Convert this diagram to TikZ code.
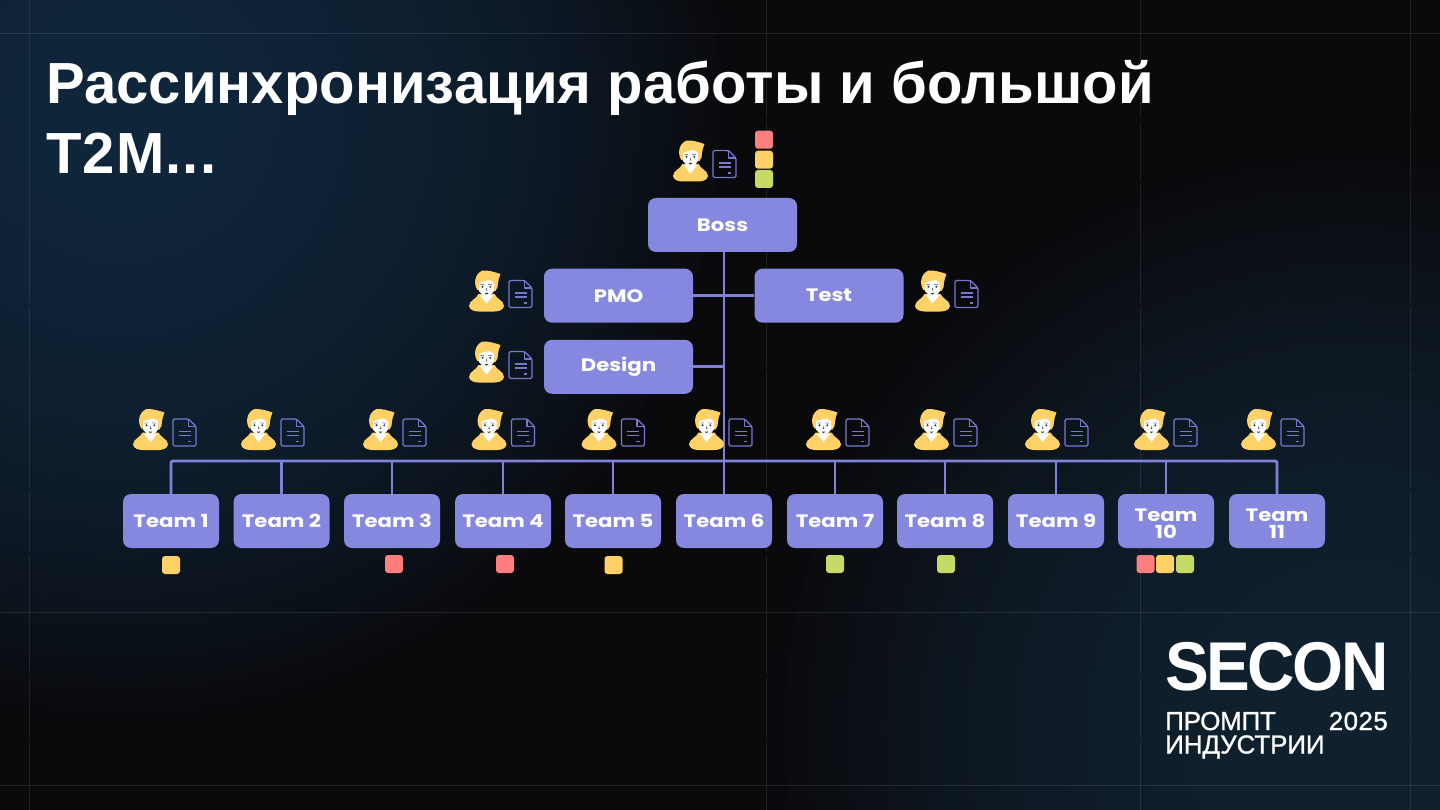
\documentclass[tikz,border=0pt]{standalone}
\usepackage{fontspec}
\setmainfont{Liberation Sans}
\newfontfamily\boxfont[FakeStretch=1.18]{Poppins}
\usetikzlibrary{fadings}
\definecolor{bgbase}{HTML}{0A0A0C}
\definecolor{glowA}{HTML}{10263B}
\definecolor{glowB}{HTML}{10212F}
\definecolor{boxc}{HTML}{8688E0}
\definecolor{linec}{HTML}{8082DA}
\definecolor{docc}{HTML}{7779CE}
\definecolor{yel}{HTML}{FFD166}
\definecolor{redc}{HTML}{FF7F7F}
\definecolor{grn}{HTML}{C6DB66}
\definecolor{dark}{HTML}{26343C}
\tikzfading[name=glow, inner color=transparent!0, middle color=transparent!12, outer color=transparent!100]
\tikzset{
  x=1pt,y=-1pt,
  orgbox/.style={draw=none,fill=boxc,rounded corners=8pt,minimum width=149pt,minimum height=54pt,inner sep=0pt,
    text=white,font=\boxfont\bfseries\fontsize{18}{17}\selectfont,align=center},
  teambox/.style={orgbox,minimum width=96pt},
  conn/.style={draw=linec,line width=2.8pt},
  gridl/.style={draw=white,opacity=.11,line width=.8pt},
  gridv/.style={draw=white,opacity=.09,line width=.8pt,dash pattern=on 118pt off 4pt on 60pt off 3pt},
  sq/.style={fill=#1,draw=none,rounded corners=3pt,minimum size=18pt,inner sep=0pt},
  person/.pic={
    \fill[yel] (-8,3) .. controls (-10,8) and (-17,9) .. (-17.5,15) .. controls (-17,19) and (-12,20.5) .. (-8,20.5)
      -- (8,20.5) .. controls (12,20.5) and (17,19) .. (17.5,15) .. controls (17,9) and (10,8) .. (8,3) -- cycle;
    \fill[white] (-7,4) -- (7,4) -- (0,12.5) -- cycle;
    \fill[yel] (-9,-1) .. controls (-13,-6) and (-12.5,-17) .. (-4,-20.5) .. controls (1,-21) and (8,-19) .. (14,-17)
      .. controls (12.5,-14) and (12,-11) .. (11.5,-8) .. controls (11.5,-5) and (11,-2) .. (9,0) -- cycle;
    \fill[white] (-7.5,-8) .. controls (-4,-10) and (0,-10) .. (3,-11) .. controls (5,-10) and (6.5,-9) .. (7.5,-8) -- (7.5,0) .. controls (6,6) and (-5,6) .. (-7.5,0) -- cycle;
    \fill[dark] (-4,-4.2) circle (1.1) (3.8,-4.2) circle (1.1);
    \draw[dark,line width=.45pt] (-6,-6.4) -- (-2.5,-6.6) (1.5,-6.6) -- (5.5,-6.4) (.3,-3.2) -- (-.3,-.8) -- (.8,-.8);
    \fill[dark] (-2,2) -- (2,2) -- (0,3.6) -- cycle;
  },
  docicon/.pic={
    \draw[docc,line width=1.3pt,line join=round,rounded corners=1.5pt]
      (4,-13.5) -- (-11.5,-13.5) -- (-11.5,13.5) -- (11.5,13.5) -- (11.5,-6) -- cycle;
    \draw[docc,line width=1.1pt,line join=round] (4,-13.5) -- (4,-6) -- (11.5,-6);
    \draw[docc,line width=1.2pt] (-6,-1) -- (6,-1) (-6,3) -- (6,3) (3,9) -- (6.5,9);
  }
}
\begin{document}
\begin{tikzpicture}
\useasboundingbox (0,0) rectangle (1440,810);
\begin{scope}
\clip (0,0) rectangle (1440,810);
\fill[bgbase] (0,0) rectangle (1440,810);
\fill[glowA,path fading=glow,fit fading=true] (120,110) circle (620);
\fill[glowA,path fading=glow,fit fading=true] (120,110) circle (620);
\fill[glowB,path fading=glow,fit fading=true] (1350,730) circle (590);
\fill[glowB,path fading=glow,fit fading=true] (1350,730) circle (590);
\end{scope}
% grid
\draw[gridl] (0,33.5) -- (1440,33.5);
\draw[gridl] (0,612) -- (1440,612);
\draw[gridl] (0,785) -- (1440,785);
\draw[gridv] (29.5,0) -- (29.5,810);
\draw[gridv] (766,0) -- (766,810);
\draw[gridv] (1140,0) -- (1140,810);
\draw[gridv] (1410,0) -- (1410,810);
% title
\node[anchor=north west,inner sep=0pt,text=white,align=left,font=\bfseries\fontsize{58}{70}\selectfont] (title) at (46,60)
  {\addfontfeature{LetterSpace=.1}Рассинхронизация работы и большой\\\addfontfeature{LetterSpace=2}T2M...};
% org nodes
\node[orgbox] (boss) at (722.5,225) {Boss};
\node[orgbox] (pmo) at (618.5,295.7) {PMO};
\node[orgbox] (test) at (829,295.7) {Test};
\node[orgbox] (design) at (618.5,366.8) {Design};
\coordinate (trunk) at (724,461);
\foreach \n/\cx/\lab in {1/171/Team 1,2/281.5/Team 2,3/392/Team 3,4/503/Team 4,5/613/Team 5,6/724/Team 6,7/835/Team 7,8/945/Team 8,9/1056/Team 9}
  \node[teambox] (team\n) at (\cx,521) {\lab};
\node[teambox] (team10) at (1166,521) {\rule{0pt}{18pt}Team\\10};
\node[teambox] (team11) at (1277,521) {\rule{0pt}{18pt}Team\\11};
% connectors
\draw[conn] (boss.south -| trunk) -- (trunk);
\draw[conn] (pmo.east) -- (test.west);
\draw[conn] (design.east) -- (design.east -| trunk);
\draw[conn,rounded corners=2pt] (team1.north) -- (team1.north |- trunk) -- (team11.north |- trunk) -- (team11.north);
\foreach \n in {2,3,4,5,6,7,8,9,10}
  \draw[conn] (team\n.north |- trunk) -- (team\n.north);
% people and documents
\foreach \i/\px/\py in {a/690.5/161,b/486.5/291,c/932.5/291,d/486.5/362,
  e/150.5/429.5,f/258.5/429.5,g/380.5/429.5,h/489/429.5,j/599/429.5,k/706.5/429.5,l/823.5/429.5,m/931.5/429.5,n/1042.5/429.5,o/1151.5/429.5,p/1258.5/429.5}{
  \pic (man\i) at (\px,\py) {person};
  \pic (doc\i) at (\px+34,\py+3) {docicon};
}
% status squares
\node[sq=redc] (s1) at (764,139.7) {};
\node[sq=yel] (s2) at (764,159.7) {};
\node[sq=grn] (s3) at (764,179) {};
\node[sq=yel] (s4) at (171,565) {};
\node[sq=redc] (s5) at (394,564) {};
\node[sq=redc] (s6) at (505,564) {};
\node[sq=yel] (s7) at (613.5,565) {};
\node[sq=grn] (s8) at (835,564) {};
\node[sq=grn] (s9) at (946,564) {};
\node[sq=redc] (s10) at (1145.5,564) {};
\node[sq=yel] (s11) at (1165,564) {};
\node[sq=grn] (s12) at (1185,564) {};
% logo
\node[anchor=base west,inner sep=0pt,text=white,font=\bfseries\fontsize{69}{69}\selectfont] (secon) at (1165,690) {\addfontfeature{FakeStretch=.95,LetterSpace=-3.5}SECON};
\node[anchor=base west,inner sep=0pt,text=white,font=\fontsize{26}{26}\selectfont] (prompt) at (1165,730) {\addfontfeature{LetterSpace=-1,FakeBold=1}ПРОМПТ};
\node[anchor=base west,inner sep=0pt,text=white,font=\fontsize{26}{26}\selectfont] (ind) at (1165,753.5) {\addfontfeature{LetterSpace=-.5,FakeBold=1}ИНДУСТРИИ};
\node[anchor=base east,inner sep=0pt,text=white,font=\fontsize{26}{26}\selectfont] (year) at (1388,730) {\addfontfeature{LetterSpace=1.5,FakeBold=1}2025};
\end{tikzpicture}
\end{document}
